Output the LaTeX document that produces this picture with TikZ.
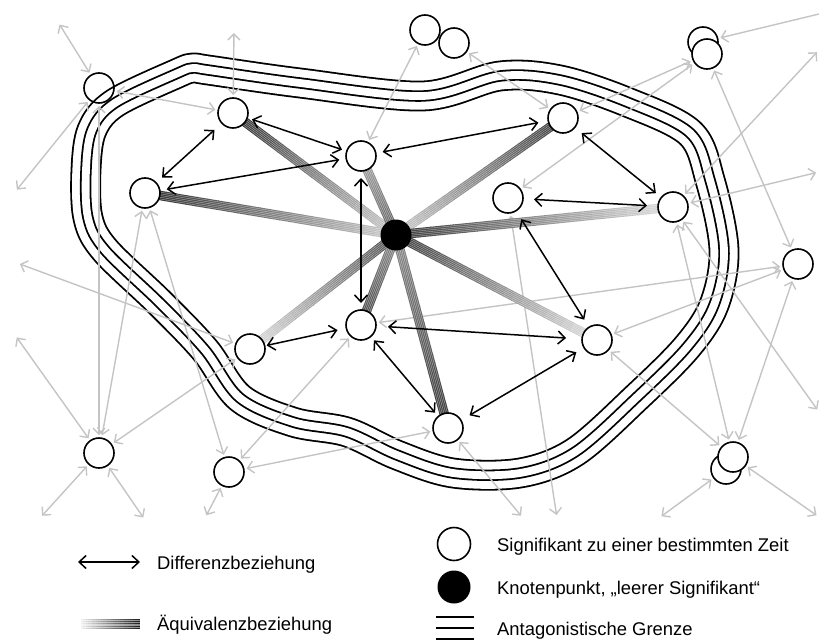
\documentclass[tikz,border=0pt]{standalone}
\usepackage{fontspec}
\setmainfont{Liberation Sans}
\usetikzlibrary{arrows.meta,calc}
\pgfdeclarelayer{band}
\pgfdeclarelayer{conn}
\pgfsetlayers{band,conn,main}
\definecolor{lg}{RGB}{196,196,196}
\newcommand\eqv[4]{%
  \foreach \s in {0,...,23}{%
    \pgfmathsetmacro\dk{#3+(#4-#3)*(\s+0.5)/24}%
    \pgfmathsetmacro\ta{\s/24}%
    \pgfmathsetmacro\tb{(\s+1.08)/24}%
    \draw[black!\dk, line width=9.5pt] ($(#1)!\ta!(#2)$) -- ($(#1)!\tb!(#2)$);%
  }%
  \foreach \o in {-3.4,-1.7,0,1.7,3.4}{%
    \draw[white, line width=0.45pt, opacity=0.5] ($(#1)!\o pt!90:(#2)$) -- ($(#2)!\o pt!-90:(#1)$);%
  }%
}
\begin{document}
\begin{tikzpicture}[x=1pt,y=-1pt,
  sig/.style={circle,draw=black,line width=1.6pt,minimum size=30pt,inner sep=0pt,outer sep=0pt,fill=white},
  knot/.style={circle,fill=black,minimum size=31pt,inner sep=0pt,outer sep=0pt},
  diffarrow/.style={line width=1.5pt,{Straight Barb[length=7pt,width=13pt]}-{Straight Barb[length=7pt,width=13pt]},shorten <=7pt,shorten >=7pt},
  grayarrow/.style={lg,line width=1.4pt,{Straight Barb[length=6pt,width=12pt]}-{Straight Barb[length=6pt,width=12pt]},shorten <=3pt,shorten >=3pt},
  grayone/.style={lg,line width=1.4pt,-{Straight Barb[length=6pt,width=12pt]},shorten >=3pt},
  legtext/.style={anchor=base west,inner sep=0pt,font=\fontsize{18.4}{22}\selectfont}
]
\useasboundingbox (0,0) rectangle (819,642);

% ---- signifiers ----
\node[sig] (A) at (233,113) {};
\node[sig] (B) at (145,193) {};
\node[sig] (C) at (361,156) {};
\node[sig] (D) at (563,118) {};
\node[sig] (E) at (673,207) {};
\node[sig] (F) at (508,198) {};
\node[sig] (G) at (250,349) {};
\node[sig] (H) at (361,325) {};
\node[sig] (I) at (597,340) {};
\node[sig] (J) at (448,428) {};
\node[knot] (K) at (396,235) {};

\node[sig,fill=none] (O1) at (99,88) {};
\node[sig] (O2) at (425,30) {};
\node[sig] (O3) at (454,43) {};
\node[sig] (O4a) at (703,42) {};
\node[sig] (O4) at (707,54) {};
\node[sig] (O5) at (798,264) {};
\node[sig] (O6) at (99,453) {};
\node[sig] (O7) at (229,472) {};
\node[sig] (O8b) at (726,469) {};
\node[sig] (O8) at (733,457) {};

% ---- free ends ----
\coordinate (f1) at (58,22);
\coordinate (f2) at (15,192);
\coordinate (f3) at (234,30);
\coordinate (f4) at (819,14);
\coordinate (f5) at (819,50);
\coordinate (f6) at (819,172);
\coordinate (f7) at (819,412);
\coordinate (f8) at (819,517);
\coordinate (f9) at (659,518);
\coordinate (f10) at (557,518);
\coordinate (f11) at (523,518);
\coordinate (f12) at (205,518);
\coordinate (f13) at (145,520);
\coordinate (f14) at (40,518);
\coordinate (f15) at (15,335);
\coordinate (f16) at (17,263);

% ---- antagonistic border ----
\begin{pgfonlayer}{band}
\foreach \w/\c in {30.8/black,27.2/white,11.4/black,7.8/white}{
  \draw[line width=\w pt,\c,line join=round] plot[smooth cycle,tension=0.55] coordinates {
    (178,73) (193,68) (208,70) (300,83) (423,96) (500,76) (560,80) (627,102) (690,133) (710,180)
    (724,250) (714,305) (687,347) (637,397) (575,452) (520,473) (453,473)
    (397,455) (347,432) (293,422) (240,398) (205,350) (160,303) (105,250)
    (88,218) (86,170) (92,130) (115,103)};
}
\end{pgfonlayer}

\begin{pgfonlayer}{conn}
% grey relations outside / across
\foreach \a/\b in {O1/f1, O1/f2, O1/A, O1/O6, A/f3, O2/C, O3/D, O4/D, O4/F, O4/O5,
  E/f5, E/f6, E/O8, E/f7, H/O5, I/O5, O5/O8, I/O8, O8b/f9, O8/f8, F/f10, J/f11,
  O7/J, O7/H, O7/f12, B/O7, B/O6, G/O6, G/f16, O6/f13, O6/f14, O6/f15}
  \draw[grayarrow] (\a) -- (\b);
\draw[grayone] (f4) -- (O4a);

% equivalence chains
\eqv{K}{A}{20}{82}
\eqv{K}{B}{20}{82}
\eqv{K}{C}{62}{35}
\eqv{K}{D}{20}{78}
\eqv{K}{E}{78}{12}
\eqv{K}{G}{70}{12}
\eqv{K}{H}{45}{72}
\eqv{K}{I}{78}{12}
\eqv{K}{J}{45}{78}

% differences
\draw[diffarrow,shorten <=10pt,shorten >=8pt] (A) -- (B);
\draw[diffarrow,shorten <=5pt,shorten >=5pt] (A) -- (C);
\draw[diffarrow] (B) -- (C);
\draw[diffarrow,shorten <=7pt,shorten >=10pt] (C) -- (D);
\draw[diffarrow] (C) -- (H);
\draw[diffarrow,shorten <=9pt,shorten >=7pt] (D) -- (E);
\draw[diffarrow,shorten <=11pt,shorten >=11pt] (F) -- (E);
\draw[diffarrow,shorten <=10pt,shorten >=9pt] (F) -- (I);
\draw[diffarrow,shorten <=12pt,shorten >=16pt] (H) -- (I);
\draw[diffarrow,shorten <=5pt,shorten >=5pt] (H) -- (J);
\draw[diffarrow,shorten <=10pt,shorten >=9pt] (J) -- (I);
\draw[diffarrow,shorten <=2pt,shorten >=9pt] (G) -- (H);

% ---- legend ----
\coordinate (la1) at (78,562);
\coordinate (la2) at (140,562);
\draw[diffarrow,shorten <=0pt,shorten >=0pt] (la1) -- (la2);
\coordinate (lb1) at (81,624);
\coordinate (lb2) at (140,624);
\eqv{lb1}{lb2}{5}{90}
\coordinate (ll1) at (436,617);
\coordinate (ll2) at (474,617);
\coordinate (ll3) at (436,628);
\coordinate (ll4) at (474,628);
\coordinate (ll5) at (436,639);
\coordinate (ll6) at (474,639);
\draw[line width=1.8pt] (ll1) -- (ll2);
\draw[line width=1.8pt] (ll3) -- (ll4);
\draw[line width=1.8pt] (ll5) -- (ll6);
\end{pgfonlayer}

\node[sig,minimum size=33pt] (lc1) at (454,544) {};
\node[knot,minimum size=33pt] (lc2) at (454,587) {};

\node[legtext] (t1) at (157,569) {Differenzbeziehung};
\node[legtext] (t2) at (157,630) {Äquivalenzbeziehung};
\node[legtext] (t3) at (497,551) {Signifikant zu einer bestimmten Zeit};
\node[legtext] (t4) at (497,594) {Knotenpunkt, „leerer Signifikant“};
\node[legtext] (t5) at (497,635) {Antagonistische Grenze};
\end{tikzpicture}
\end{document}
